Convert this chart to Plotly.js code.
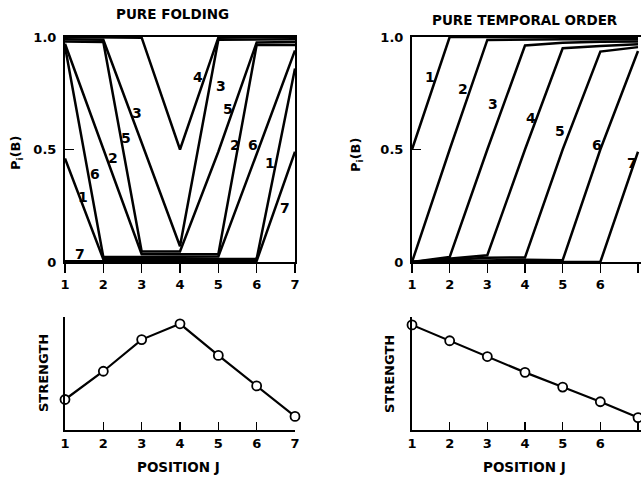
<!DOCTYPE html>
<html><head><meta charset="utf-8">
<script src="https://cdn.plot.ly/plotly-3.0.1.min.js"></script>
<style>html,body{margin:0;padding:0;background:#fff}#chart{width:641px;height:478px}</style>
</head><body><div id="chart"></div>
<script>
// ---- data ----
const positions = [1, 2, 3, 4, 5, 6, 7];
const positionLabels = ['1', '2', '3', '4', '5', '6', '7'];
const pTickVals = [0, 0.5, 1];
const pTickText = ['0', '0.5', '1.0'];
const itemNames = ['1', '2', '3', '4', '5', '6', '7'];

// Pure folding: P_i(B) for items 1..7 at positions 1..7
const fold1 = [0.46, 0.012, 0.012, 0.012, 0.012, 0.014, 0.86];
const fold2 = [0.97, 0.50, 0.035, 0.035, 0.035, 0.965, 0.965];
const fold3 = [0.99, 0.988, 0.53, 0.07, 0.988, 0.99, 0.99];
const fold4 = [1.0, 1.0, 0.997, 0.50, 0.997, 1.0, 1.0];
const fold5 = [0.98, 0.978, 0.047, 0.047, 0.49, 0.976, 0.978];
const fold6 = [0.958, 0.022, 0.022, 0.022, 0.024, 0.48, 0.94];
const fold7 = [0.003, 0.003, 0.003, 0.003, 0.003, 0.005, 0.49];

// Pure temporal order
const temp1 = [0.50, 1.0, 1.0, 1.0, 1.0, 1.0, 1.0];
const temp2 = [0.0, 0.50, 0.987, 0.99, 0.99, 0.99, 0.99];
const temp3 = [0.0, 0.022, 0.50, 0.962, 0.974, 0.979, 0.98];
const temp4 = [0.0, 0.014, 0.03, 0.50, 0.95, 0.96, 0.968];
const temp5 = [0.0, 0.008, 0.019, 0.02, 0.50, 0.935, 0.955];
const temp6 = [0.0, 0.004, 0.009, 0.01, 0.008, 0.50, 0.938];
const temp7 = [0.0, 0.0, 0.0, 0.0, 0.0, 0.0, 0.49];

// Strength at each position
const foldStrength = [0.27, 0.52, 0.80, 0.94, 0.66, 0.39, 0.12];
const temporalStrength = [0.93, 0.79, 0.65, 0.51, 0.38, 0.25, 0.11];

// ---- label placement (layout, not data) ----
const foldLabelPlaces = [
  ['7', 1.39, 0.035], ['1', 1.48, 0.29], ['6', 1.78, 0.39], ['2', 2.26, 0.46],
  ['5', 2.59, 0.55], ['3', 2.88, 0.66], ['4', 4.47, 0.82], ['3', 5.07, 0.78],
  ['5', 5.26, 0.68], ['2', 5.43, 0.52], ['6', 5.91, 0.52], ['1', 6.35, 0.44],
  ['7', 6.74, 0.24]
];
const tempLabelPlaces = [
  ['1', 1.48, 0.82], ['2', 2.35, 0.77], ['3', 3.15, 0.70], ['4', 4.16, 0.64],
  ['5', 4.93, 0.58], ['6', 5.91, 0.52], ['7', 6.84, 0.44]
];

const FONT = 'DejaVu Sans';
const BLACK = '#000';
const LW = 2.5;
const foldSeries = [fold1, fold2, fold3, fold4, fold5, fold6, fold7];
const tempSeries = [temp1, temp2, temp3, temp4, temp5, temp6, temp7];

const traces = [];
foldSeries.forEach((ys, k) => traces.push({
  x: positions, y: ys, name: 'fold ' + itemNames[k], xaxis: 'x', yaxis: 'y',
  mode: 'lines', line: {color: BLACK, width: LW}, hoverinfo: 'skip'
}));
tempSeries.forEach((ys, k) => traces.push({
  x: positions, y: ys, name: 'temporal ' + itemNames[k], xaxis: 'x2', yaxis: 'y2',
  mode: 'lines', line: {color: BLACK, width: LW}, hoverinfo: 'skip'
}));
traces.push({
  x: positions, y: foldStrength, xaxis: 'x3', yaxis: 'y3', mode: 'lines+markers',
  line: {color: BLACK, width: 2.2}, cliponaxis: false,
  marker: {symbol: 'circle', size: 9, color: '#fff', line: {color: BLACK, width: 1.8}}
});
traces.push({
  x: positions, y: temporalStrength, xaxis: 'x4', yaxis: 'y4', mode: 'lines+markers',
  line: {color: BLACK, width: 2.2}, cliponaxis: false,
  marker: {symbol: 'circle', size: 9, color: '#fff', line: {color: BLACK, width: 1.8}}
});

const W = 641, H = 478;
const px = v => v / W, py = v => 1 - v / H;
const tickFont = {family: FONT, size: 13, color: BLACK, weight: 'bold'};

function topX(domain, range) {
  return {domain: domain, range: range, tickvals: positions, ticktext: positionLabels,
    ticks: 'outside', ticklen: 9, tickwidth: 1.5, tickcolor: BLACK,
    showline: true, mirror: true, linecolor: BLACK, linewidth: 2,
    showgrid: false, zeroline: false, tickfont: tickFont, fixedrange: true};
}
function topY(anchor) {
  return {domain: [py(262), py(37)], range: [0, 1], tickvals: pTickVals, ticktext: pTickText,
    ticks: 'inside', ticklen: 9, tickwidth: 1.5, tickcolor: BLACK,
    showline: true, mirror: true, linecolor: BLACK, linewidth: 2,
    showgrid: false, zeroline: false, tickfont: tickFont, anchor: anchor, ticklabelstandoff: 4};
}
function botX(domain, range, anchor) {
  return {domain: domain, range: range, tickvals: positions, ticktext: positionLabels,
    ticks: 'inside', ticklen: 8, tickwidth: 1.5, tickcolor: BLACK,
    showline: true, linecolor: BLACK, linewidth: 2, anchor: anchor,
    showgrid: false, zeroline: false, tickfont: tickFont};
}
function botY(anchor) {
  return {domain: [py(430), py(317)], range: [0, 1], showticklabels: false, ticks: '',
    showline: true, linecolor: BLACK, linewidth: 2, showgrid: false, zeroline: false, anchor: anchor};
}

const annotations = [];
function addText(text, x, y, size, angle) {
  annotations.push({text: text, x: x, y: y, xref: 'paper', yref: 'paper', showarrow: false,
    xanchor: 'center', yanchor: 'middle', textangle: angle || 0,
    font: {family: FONT, size: size, color: BLACK, weight: 'bold'}});
}
addText('PURE FOLDING', px(172), py(14), 13.5);
addText('PURE TEMPORAL ORDER', px(525), py(20), 13.5);
addText('P<sub>i</sub>(B)', px(17), py(153), 13, -90);
addText('P<sub>i</sub>(B)', px(356), py(155), 13, -90);
addText('STRENGTH', px(43), py(373), 13, -90);
addText('STRENGTH', px(389), py(374), 13, -90);
addText('POSITION J', px(178), py(467), 13.5);
addText('POSITION J', px(524), py(467), 13.5);

foldLabelPlaces.forEach(([t, x, y]) => annotations.push({text: t, x: x, y: y, xref: 'x', yref: 'y',
  showarrow: false, font: {family: FONT, size: 14, color: BLACK, weight: 'bold'}}));
tempLabelPlaces.forEach(([t, x, y]) => annotations.push({text: t, x: x, y: y, xref: 'x2', yref: 'y2',
  showarrow: false, font: {family: FONT, size: 14, color: BLACK, weight: 'bold'}}));

const rightRangeMax = 1 + (641 - 412) / ((638 - 412) / 6);
const layout = {
  width: W, height: H, margin: {l: 0, r: 0, t: 0, b: 0},
  paper_bgcolor: '#fff', plot_bgcolor: 'rgba(0,0,0,0)', showlegend: false,
  xaxis: Object.assign(topX([px(65), px(295)], [1, 7]), {anchor: 'y'}),
  yaxis: topY('x'),
  xaxis2: Object.assign(topX([px(412), 1], [1, rightRangeMax]), {anchor: 'y2'}),
  yaxis2: topY('x2'),
  xaxis3: botX([px(65), px(295)], [1, 7], 'y3'),
  yaxis3: botY('x3'),
  xaxis4: botX([px(412), 1], [1, rightRangeMax], 'y4'),
  yaxis4: botY('x4'),
  annotations: annotations
};

Plotly.newPlot('chart', traces, layout, {staticPlot: true});
</script></body></html>
